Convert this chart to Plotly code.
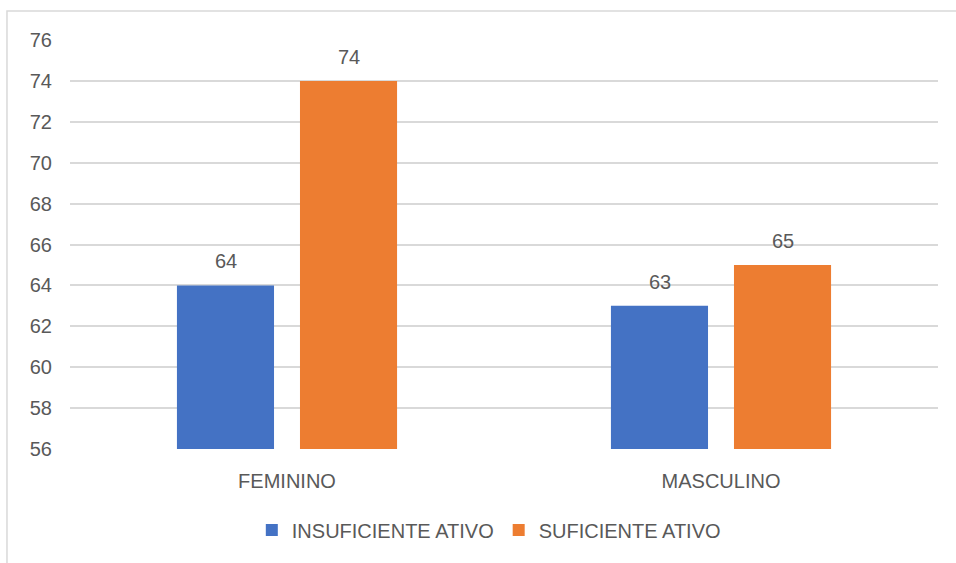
import plotly.graph_objects as go

categories = ["FEMININO", "MASCULINO"]
series_names = ["INSUFICIENTE ATIVO", "SUFICIENTE ATIVO"]
insuficiente = [64, 63]
suficiente = [74, 65]
colors = ["#4472C4", "#ED7D31"]
y_ticks = list(range(56, 78, 2))

FONT = "Liberation Sans"
TXT = "#595959"
FS = 20

fig = go.Figure()
for name, vals, col in zip(series_names, [insuficiente, suficiente], colors):
    fig.add_trace(go.Bar(x=categories, y=vals, name=name, marker_color=col,
                         marker_line_width=0))

# data labels
for vals, shift in zip([insuficiente, suficiente], [-61.5, 61.5]):
    for c, v in zip(categories, vals):
        fig.add_annotation(x=c, y=v, text=str(v), showarrow=False, xshift=shift,
                           yshift=24, yanchor="middle",
                           font=dict(family=FONT, size=FS, color=TXT))

# chart border
fig.add_shape(type="rect", xref="paper", yref="paper",
              x0=-0.0726, x1=1.03, y0=-0.3, y1=1.0709,
              line=dict(color="#D9D9D9", width=1.5), layer="below")

fig.update_layout(
    width=956, height=563,
    margin=dict(l=70, r=18, t=40, b=114),
    paper_bgcolor="white", plot_bgcolor="white",
    barmode="group", bargap=0.433, bargroupgap=0.211,
    font=dict(family=FONT, size=FS, color=TXT),
    showlegend=True,
    legend=dict(orientation="h", x=0.4825, xanchor="center", y=-0.198, yanchor="middle",
                font=dict(family=FONT, size=FS, color=TXT), itemwidth=30,
                traceorder="normal"),
    xaxis=dict(showgrid=False, showline=False, ticks="outside", ticklen=14,
               tickcolor="rgba(0,0,0,0)", tickfont=dict(size=FS, color=TXT)),
    yaxis=dict(range=[56, 76], tickvals=y_ticks, showgrid=True, gridcolor="#D9D9D9",
               gridwidth=1.5, zeroline=False, showline=False, ticks="outside",
               ticklen=13, tickcolor="rgba(0,0,0,0)", tickfont=dict(size=FS, color=TXT)),
)

fig.write_html("out.html", config={"displayModeBar": False},
               post_script="document.body.style.margin='0';")
